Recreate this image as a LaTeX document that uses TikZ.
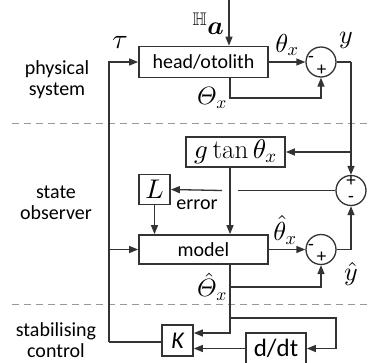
\documentclass[tikz,border=0pt]{standalone}
\usepackage{amsmath,amssymb,bm}
\usepackage{fontspec}
\setsansfont{Carlito}
\DeclareFontShape{OML}{cmm}{m}{it}{<->cmmi10}{}
\DeclareFontShape{OML}{cmm}{b}{it}{<->cmmib10}{}
\DeclareFontShape{OT1}{cmr}{m}{n}{<->cmr10}{}
\DeclareFontShape{OMS}{cmsy}{m}{n}{<->cmsy10}{}
\usetikzlibrary{arrows.meta,calc}
\definecolor{ln}{HTML}{333333}
\begin{document}
\begin{tikzpicture}[x=1pt,y=-1pt,
  every node/.style={text=black},
  blk/.style={draw=ln, line width=1.7pt, inner sep=0pt, font=\sffamily\fontsize{20}{24}\selectfont},
  sumj/.style={draw=ln, line width=1.3pt, circle, minimum size=30pt, inner sep=0pt},
  ln/.style={draw=ln, line width=1.3pt},
  arr/.style={ln, -{Triangle[length=9pt,width=7pt]}},
  sgn/.style={font=\sffamily\fontsize{19}{19}\selectfont, inner sep=0pt},
  mlab/.style={font=\fontsize{26}{30}\selectfont, inner sep=0pt},
  side/.style={font=\sffamily\fontsize{20}{21}\selectfont, align=center, inner sep=0pt},
  sep/.style={draw=gray!80, line width=1pt, dash pattern=on 7pt off 5pt}
]
\useasboundingbox (0,0) rectangle (370,362);

% separators
\draw[sep] (12,123) -- (370,123);
\draw[sep] (12,304) -- (370,304);

% side labels
\node[side] (lphys) at (57,80) {physical\\system};
\node[side] (lobs) at (56,203) {state\\observer};
\node[side] (lctl) at (56,340) {stabilising\\control};

% blocks
\node[blk, minimum width=129pt, minimum height=31pt] (head) at (203.5,62) {head/otolith};
\node[blk, minimum width=129pt, minimum height=29pt] (model) at (203.5,249.5) {model};
\node[blk, minimum width=99pt, minimum height=30pt, font=\fontsize{27}{30}\selectfont] (gtan) at (235.5,152) {$g\tan\theta_x$};
\node[blk, minimum width=31pt, minimum height=30pt, font=\fontsize{27}{30}\selectfont] (L) at (154.5,189.5) {$L$};
\node[blk, minimum width=31pt, minimum height=31pt, font=\sffamily\itshape\fontsize{24}{28}\selectfont] (K) at (177.5,340.5) {K};
\node[blk, minimum width=60pt, minimum height=31pt, font=\sffamily\fontsize{25}{28}\selectfont] (ddt) at (276,348.5) {d/dt};

% summing junctions
\node[sumj] (s1) at (321,62) {};
\node[sumj] (s2) at (351,190.5) {};
\node[sumj] (s3) at (321,249.5) {};
\node[sgn] (s1m) at (311,59.5) {-};
\node[sgn] (s1p) at (321.5,70) {+};
\node[sgn] (s2p) at (351,181) {+};
\node[sgn] (s2m) at (351,199.5) {-};
\node[sgn] (s3m) at (311,247) {-};
\node[sgn] (s3p) at (321.5,257.5) {+};

% coordinates
\coordinate (ain) at (229,0);
\coordinate (Thx) at (230,98);
\coordinate (yc) at (351,62);
\coordinate (gapR) at (238,190.5);
\coordinate (gapL) at (222,190.5);
\coordinate (Thhx) at (230,287);
\coordinate (yh) at (351,249.5);
\coordinate (kin) at (230,333);
\coordinate (br) at (230,318);
\coordinate (br2) at (336,318);
\coordinate (tl) at (109,342);

% physical system
\draw[arr] (ain) -- (ain |- head.north);
\draw[arr] (head.east) -- (s1.west);
\draw[arr] (head.south -| Thx) -- (Thx) -| (s1.south);
\draw[ln] (s1.east) -- (yc);
\draw[arr] (yc) -- (s2.north);
\draw[arr] (yc |- gtan.east) -- (gtan.east);

% observer
\draw[arr] (gtan.south -| Thx) -- (model.north -| Thx);
\draw[ln] (s2.west) -- (gapR);
\draw[arr] (gapL) -- (L.east);
\draw[arr] (L.south) -- (L.south |- model.north);
\draw[arr] (model.east) -- (s3.west);
\draw[arr] (model.south -| Thhx) -- (Thhx) -| (s3.south);
\draw[ln] (s3.east) -- (yh);
\draw[arr] (yh) -- (s2.south);

% control
\draw[arr] (Thhx) -- (kin) -- (kin -| K.east);
\draw[arr] (br) -- (br2) |- (ddt.east);
\draw[arr] (ddt.west) -- (ddt.west -| K.east);
\draw[ln] (K.west |- tl) -- (tl);
\draw[arr] (tl) |- (head.west);
\draw[arr] (tl |- model.west) -- (model.west);

% labels
\node[mlab, font=\fontsize{28}{30}\selectfont] (tau) at (120,42) {$\tau$};
\node[mlab, anchor=south east] (acc) at (224,35) {${}^{\mathbb{H}}\bm{a}$};
\node[mlab] (thx) at (287,45) {$\theta_x$};
\node[mlab] (ylab) at (346,40) {$y$};
\node[mlab, font=\fontsize{25}{30}\selectfont] (Thxl) at (212,98) {$\varTheta_x$};
\node[mlab] (thhx) at (285,230) {$\hat\theta_x$};
\node[mlab, font=\fontsize{25}{30}\selectfont] (Thhxl) at (212,287) {$\hat\varTheta_x$};
\node[mlab] (yhl) at (351,274) {$\hat y$};
\node[font=\sffamily\fontsize{20}{24}\selectfont, inner sep=0pt] (err) at (197,205) {error};
\end{tikzpicture}
\end{document}
